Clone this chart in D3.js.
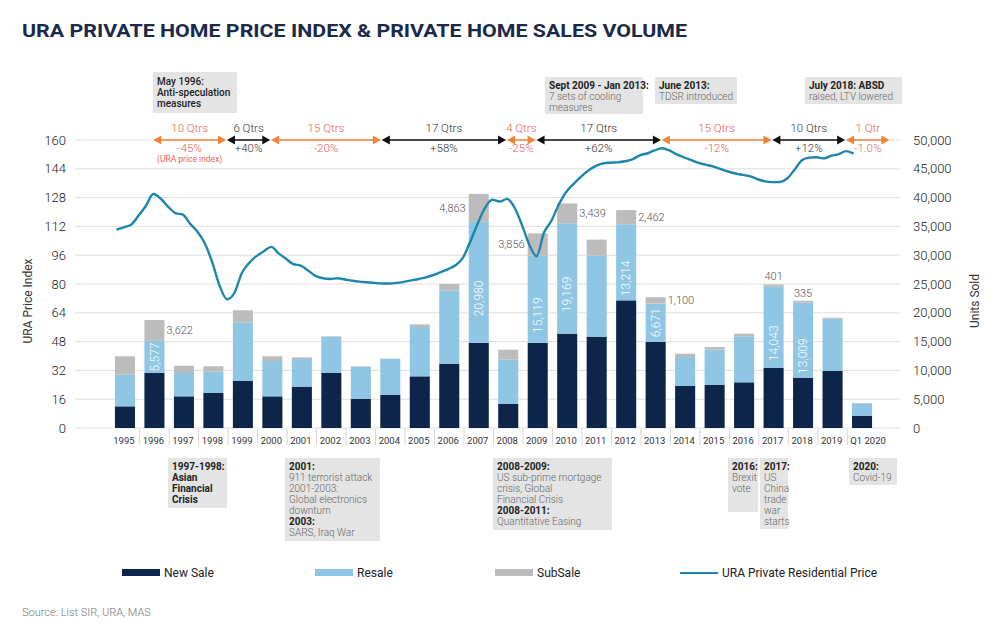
<!DOCTYPE html>
<html><head><meta charset="utf-8">
<script src="https://cdn.jsdelivr.net/npm/d3@7"></script>
<style>
body{margin:0;background:#fff;}
svg{display:block;font-family:Roboto, Lato, 'Open Sans', sans-serif;}
</style>
</head><body>
<svg id="chart" width="1000" height="635"></svg>
<script>
// ---------------- DATA ----------------
const categories = ["1995","1996","1997","1998","1999","2000","2001","2002","2003","2004","2005","2006","2007","2008","2009","2010","2011","2012","2013","2014","2015","2016","2017","2018","2019","Q1 2020"];
const newSale = [3760, 9550, 5500, 6080, 8160, 5500, 7180, 9550, 5090, 5730, 8970, 11170, 14800, 4170, 14800, 16380, 15860, 22160, 14950, 7290, 7470, 7930, 10470, 8740, 9900, 2140];
const resale  = [5500, 5577, 4050, 3700, 10190, 6130, 4800, 6250, 5570, 6250, 8560, 12730, 20980, 7700, 15119, 19169, 14060, 13214, 6671, 5030, 6130, 7990, 14043, 13009, 9050, 2150];
const subSale = [3180, 3622, 1270, 930, 2080, 810, 290, 110, 50, 60, 460, 1100, 4863, 1730, 3856, 3439, 2780, 2462, 1100, 580, 460, 460, 401, 335, 200, 50];

// URA private residential price index, quarterly 1995Q1 .. 2020Q1
const priceIndex = [
 110.2,111.5,113.0,118.0, 123.5,130.0,127.5,123.0, 119.4,118.5,113.5,109.0, 102.5,92.0,79.0,71.5,
 75.0,86.0,91.7,95.5, 98.2,100.6,97.0,94.0, 91.0,90.2,87.5,84.5, 83.2,82.8,83.2,82.5,
 81.8,81.3,81.0,80.6, 80.3,80.3,80.6,81.2, 82.0,82.8,83.7,85.0, 86.6,88.3,90.4,94.5,
 103.5,113.5,122.3,126.8, 125.8,127.3,122.5,113.0, 102.0,95.4,108.5,115.0, 124.0,131.0,135.5,139.5,
 143.0,145.5,147.0,147.4, 147.6,148.2,149.2,151.5, 152.5,154.2,155.4,154.2, 152.0,150.4,148.8,147.3,
 146.2,145.2,143.8,142.5, 141.4,140.6,139.8,138.2, 137.0,136.6,136.7,138.6, 143.5,148.8,150.2,150.4,
 149.8,151.3,152.2,153.8, 152.4
];

const leftTicks = [0,16,32,48,64,80,96,112,128,144,160];
const rightTicks = [0,5000,10000,15000,20000,25000,30000,35000,40000,45000,50000];

// Price cycles (quarter indices from 1995Q1)
const cycleStart = [5,15,21,36,53,57,74,89,99];
const cycleEnd   = [15,21,36,53,57,74,89,99,105];
const cycleQtrs  = ["10 Qtrs","6 Qtrs","15 Qtrs","17 Qtrs","4 Qtrs","17 Qtrs","15 Qtrs","10 Qtrs","1 Qtr"];
const cycleChange= ["-45%","+40%","-20%","+58%","-25%","+62%","-12%","+12%","-1.0%"];

// labelled bars
const resaleLabelled = ["1996","2007","2009","2010","2012","2013","2017","2018"];
const subLabelled = ["1996","2007","2009","2010","2012","2013","2017","2018"];
const subLabelSide = ["right","left","left","right","right","right","top","top"];

const topNotes = [
  [["May 1996:",1],["Anti-speculation",1],["measures",1]],
  [["Sept 2009 - Jan 2013:",2],["7 sets of cooling",0],["measures",0]],
  [["June 2013:",2],["TDSR introduced",0]],
  [["July 2018: ABSD",2],["raised, LTV lowered",0]]
];
const bottomNotes = [
  [["1997-1998:",2],["Asian",2],["Financial",2],["Crisis",2]],
  [["2001:",2],["911 terrorist attack",0],["2001-2003:",0],["Global electronics",0],["downturn",0],["2003:",2],["SARS, Iraq War",0]],
  [["2008-2009:",2],["US sub-prime mortgage",0],["crisis, Global",0],["Financial Crisis",0],["2008-2011:",2],["Quantitative Easing",0]],
  [["2016:",2],["Brexit",0],["vote",0]],
  [["2017:",2],["US",0],["China",0],["trade",0],["war",0],["starts",0]],
  [["2020:",2],["Covid-19",0]]
];
const seriesNames = ["New Sale","Resale","SubSale","URA Private Residential Price"];

// ---------------- LAYOUT ----------------
const C = {newS:"#0c2549", res:"#8fc6e3", sub:"#bcbcbc", line:"#1c87ae",
           grid:"#dedede", text:"#333", orange:"#f0833a", red:"#e2625a", box:"#e4e4e4"};
const topBoxes = [{x:153,y:72,w:84,h:41},{x:545,y:77,w:98,h:37},{x:655,y:77,w:82,h:27},{x:805,y:77,w:97,h:27}];
const bottomBoxes = [{x:168,y:458,w:59,h:50},{x:285,y:458,w:95,h:83},{x:493,y:458,w:119,h:72},
                     {x:728,y:458,w:30,h:54},{x:760,y:458,w:28,h:71},{x:849,y:458,w:48,h:27}];

const svg = d3.select("#chart");

const x = d3.scaleBand().domain(categories).range([105.5, 881.5]).paddingInner(0.32).paddingOuter(0.32);
const yL = d3.scaleLinear().domain([0,160]).range([428,140]);
const yR = d3.scaleLinear().domain([0,50000]).range([428,140]);
const xq = d3.scaleLinear().domain([0,4*(categories.length-1)]).range([x(categories[0])+1.5, x(categories[categories.length-1])+1.5]);

// Title
svg.append("text").attr("x",22).attr("y",37).attr("font-size",19).attr("font-weight",700)
  .attr("fill","#1b2a4a").attr("textLength",665).attr("lengthAdjust","spacingAndGlyphs")
  .text("URA PRIVATE HOME PRICE INDEX & PRIVATE HOME SALES VOLUME");

// Grid
svg.append("g").selectAll("line").data(leftTicks).join("line")
  .attr("x1",75).attr("x2",900).attr("y1",d=>yL(d)).attr("y2",d=>yL(d))
  .attr("stroke",C.grid).attr("stroke-width",1);

// Left axis labels
svg.append("g").selectAll("text").data(leftTicks).join("text")
  .attr("x",66).attr("y",d=>yL(d)).attr("dy","0.35em").attr("text-anchor","end")
  .attr("font-size",13).attr("font-weight",300).attr("fill","#222").text(d=>d);
// Right axis labels
svg.append("g").selectAll("text").data(rightTicks).join("text")
  .attr("x",913).attr("y",d=>yR(d)).attr("dy","0.35em").attr("text-anchor","start")
  .attr("font-size",13).attr("font-weight",300).attr("fill","#222").text(d=>d3.format(",")(d));

// Axis titles
svg.append("text").attr("transform","translate(32,301) rotate(-90)").attr("text-anchor","middle")
  .attr("font-size",12).attr("fill",C.text).text("URA Price Index");
svg.append("text").attr("transform","translate(979,301) rotate(-90)").attr("text-anchor","middle")
  .attr("font-size",12).attr("fill",C.text).text("Units Sold");

// X axis labels + separators
const step = x.step();
svg.append("g").selectAll("text").data(categories).join("text")
  .attr("x",d=>x(d)+x.bandwidth()/2 - (d==="Q1 2020"? -6:1)).attr("y",444).attr("text-anchor","middle")
  .attr("font-size",9.5).attr("fill",C.text).text(d=>d);
svg.append("g").selectAll("line").data(categories.slice(1)).join("line")
  .attr("x1",d=>x(d)-step*x.paddingInner()/2).attr("x2",d=>x(d)-step*x.paddingInner()/2)
  .attr("y1",429).attr("y2",445).attr("stroke","#d6d6d6");

// Bars (stacked)
const rows = categories.map((c,i)=>({c, n:newSale[i], r:resale[i], s:subSale[i]}));
const g = svg.append("g");
g.selectAll("rect.n").data(rows).join("rect").attr("class","n")
  .attr("x",d=>x(d.c)).attr("width",x.bandwidth())
  .attr("y",d=>yR(d.n)).attr("height",d=>yR(0)-yR(d.n)).attr("fill",C.newS);
g.selectAll("rect.r").data(rows).join("rect").attr("class","r")
  .attr("x",d=>x(d.c)).attr("width",x.bandwidth())
  .attr("y",d=>yR(d.n+d.r)).attr("height",d=>yR(d.n)-yR(d.n+d.r)).attr("fill",C.res);
g.selectAll("rect.s").data(rows).join("rect").attr("class","s")
  .attr("x",d=>x(d.c)).attr("width",x.bandwidth())
  .attr("y",d=>yR(d.n+d.r+d.s)).attr("height",d=>yR(d.n+d.r)-yR(d.n+d.r+d.s)).attr("fill",C.sub);

// Resale labels (rotated, white)
const fmt = d3.format(",");
resaleLabelled.forEach(c=>{
  const d = rows[categories.indexOf(c)];
  const top = yR(d.n+d.r), bot = yR(d.n);
  let cy = (top+bot)/2; if (bot-top > 60) cy += 16;
  svg.append("text").attr("transform",`translate(${x(c)+x.bandwidth()/2},${cy}) rotate(-90)`)
    .attr("text-anchor","middle").attr("dy","0.35em").attr("font-size",12).attr("font-weight",300)
    .attr("fill","#fff").text(fmt(d.r));
});
// SubSale labels
subLabelled.forEach((c,k)=>{
  const d = rows[categories.indexOf(c)];
  const top = yR(d.n+d.r+d.s), bot = yR(d.n+d.r);
  const side = subLabelSide[k];
  const t = svg.append("text").attr("font-size",11).attr("font-weight",300).attr("fill","#555").text(fmt(d.s));
  if (side==="right") t.attr("x",x(c)+x.bandwidth()+2).attr("y",(top+bot)/2).attr("dy","0.35em");
  else if (side==="left") t.attr("x",x(c)-3).attr("y",(top+bot)/2).attr("dy","0.35em").attr("text-anchor","end");
  else t.attr("x",x(c)+x.bandwidth()/2).attr("y",top-4).attr("text-anchor","middle");
});

// Price line
const line = d3.line().x((d,i)=>xq(i)).y(d=>yL(d)).curve(d3.curveMonotoneX);
svg.append("path").datum(priceIndex).attr("d",line).attr("fill","none")
  .attr("stroke",C.line).attr("stroke-width",2.4).attr("stroke-linejoin","round");

// Cycle arrows
const ay = yL(160);
cycleStart.forEach((s,i)=>{
  const down = cycleChange[i].startsWith("-");
  const col = down ? C.orange : "#111";
  const tcol = down ? C.red : C.text;
  const x0 = xq(s), x1 = xq(cycleEnd[i])-1;
  svg.append("line").attr("x1",x0+4).attr("x2",x1-4).attr("y1",ay).attr("y2",ay).attr("stroke",col).attr("stroke-width",1.4);
  svg.append("path").attr("d",`M${x0},${ay}L${x0+8},${ay-4.5}L${x0+8},${ay+4.5}Z`).attr("fill",col);
  svg.append("path").attr("d",`M${x1},${ay}L${x1-8},${ay-4.5}L${x1-8},${ay+4.5}Z`).attr("fill",col);
  const cx = (x0+x1)/2;
  svg.append("text").attr("x",cx).attr("y",132).attr("text-anchor","middle").attr("font-size",11.5).attr("font-weight",300).attr("fill",tcol).text(cycleQtrs[i]);
  svg.append("text").attr("x",cx).attr("y",152).attr("text-anchor","middle").attr("font-size",11.5).attr("font-weight",300).attr("fill",tcol).text(cycleChange[i]);
  if (i===0) svg.append("text").attr("x",cx).attr("y",162).attr("text-anchor","middle").attr("font-size",8.5).attr("fill",tcol).text("(URA price index)");
});

// Notes
function drawNote(box, lines, firstBase){
  svg.append("rect").attr("x",box.x).attr("y",box.y).attr("width",box.w).attr("height",box.h).attr("fill",C.box);
  lines.forEach((l,j)=>{
    svg.append("text").attr("x",box.x+4).attr("y",box.y+firstBase+j*11)
      .attr("font-size",10).attr("font-weight",l[1]===2?700:(l[1]===1?500:300))
      .attr("fill",l[1]===0?"#666":"#222").text(l[0]);
  });
}
topNotes.forEach((n,i)=>drawNote(topBoxes[i], n, i===0?13:12));
bottomNotes.forEach((n,i)=>drawNote(bottomBoxes[i], n, 12));

// Legend
const lg = svg.append("g");
const legX = [122,315,495,680];
[C.newS,C.res,C.sub].forEach((col,i)=>{
  lg.append("rect").attr("x",legX[i]).attr("y",569).attr("width",38).attr("height",7).attr("fill",col);
});
lg.append("line").attr("x1",legX[3]).attr("x2",legX[3]+38).attr("y1",573).attr("y2",573).attr("stroke",C.line).attr("stroke-width",2);
seriesNames.forEach((s,i)=>{
  lg.append("text").attr("x",legX[i]+42).attr("y",573).attr("dy","0.35em").attr("font-size",12).attr("fill","#222").text(s);
});

// Source
svg.append("text").attr("x",22).attr("y",616).attr("font-size",11).attr("font-weight",300).attr("fill","#777").text("Source: List SIR, URA, MAS");
</script>
</body></html>
